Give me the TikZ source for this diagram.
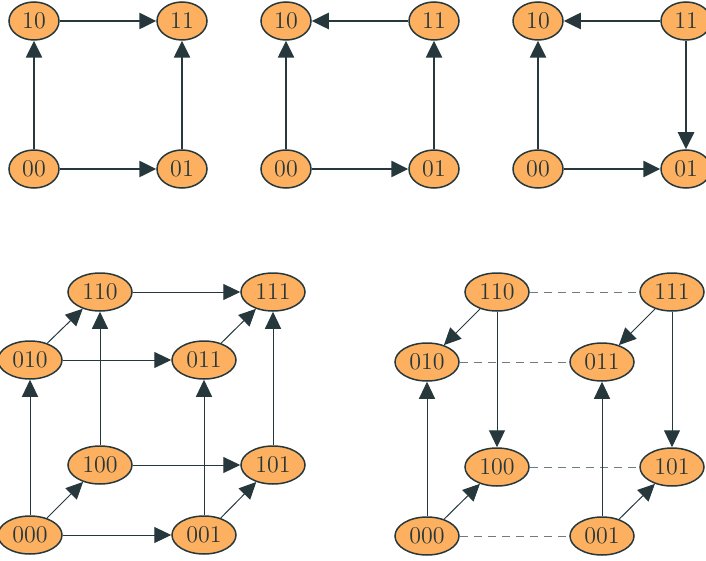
\documentclass[tikz,border=0pt]{standalone}
\usetikzlibrary{shapes.geometric,arrows.meta}
\definecolor{vxfill}{RGB}{253,176,96}
\definecolor{slate}{RGB}{38,56,60}
\definecolor{slategray}{RGB}{110,124,126}

\begin{document}
\begin{tikzpicture}[x=.5pt,y=-.5pt,
		vx/.style={ellipse,draw=slate,line width=.75pt,fill=vxfill,inner sep=0pt,minimum width=25pt,minimum height=19pt,text=slate,font=\fontsize{12}{14}\selectfont},
		vxwide/.style={vx,minimum width=32pt},
		boldarrow/.style={draw=slate,line width=1.3pt,-{Triangle[length=8.5pt,width=8pt,fill=slate]}},
		thinarrow/.style={draw=slate,line width=.5pt,-{Triangle[length=8.5pt,width=8pt,fill=slate]}},
		dashedge/.style={draw=slategray,line width=.5pt,dash pattern=on 4pt off 3pt}]
		\useasboundingbox (0,0) rectangle (706,561);
		\clip (0,0) rectangle (706,561);

		\node[vx] (a10) at (34,21) {10};
		\node[vx] (a11) at (182,21) {11};
		\node[vx] (a00) at (34,169) {00};
		\node[vx] (a01) at (182,169) {01};
		\draw[boldarrow] (a00) -- (a10);
		\draw[boldarrow] (a10) -- (a11);
		\draw[boldarrow] (a00) -- (a01);
		\draw[boldarrow] (a01) -- (a11);

		\node[vx] (b10) at (286,21) {10};
		\node[vx] (b11) at (434,21) {11};
		\node[vx] (b00) at (286,169) {00};
		\node[vx] (b01) at (434,169) {01};
		\draw[boldarrow] (b00) -- (b10);
		\draw[boldarrow] (b11) -- (b10);
		\draw[boldarrow] (b00) -- (b01);
		\draw[boldarrow] (b01) -- (b11);

		\node[vx] (c10) at (538,21) {10};
		\node[vx] (c11) at (686,21) {11};
		\node[vx] (c00) at (538,169) {00};
		\node[vx] (c01) at (686,169) {01};
		\draw[boldarrow] (c00) -- (c10);
		\draw[boldarrow] (c11) -- (c10);
		\draw[boldarrow] (c00) -- (c01);
		\draw[boldarrow] (c11) -- (c01);

		\node[vxwide] (p110) at (100,292) {110};
		\node[vxwide] (p111) at (273,292) {111};
		\node[vxwide] (p010) at (30,360) {010};
		\node[vxwide] (p011) at (204,360) {011};
		\node[vxwide] (p100) at (100,465) {100};
		\node[vxwide] (p101) at (273,465) {101};
		\node[vxwide] (p000) at (30,535) {000};
		\node[vxwide] (p001) at (204,535) {001};
		\draw[thinarrow] (p000) -- (p010);
		\draw[thinarrow] (p000) -- (p100);
		\draw[thinarrow] (p000) -- (p001);
		\draw[thinarrow] (p010) -- (p110);
		\draw[thinarrow] (p010) -- (p011);
		\draw[thinarrow] (p100) -- (p110);
		\draw[thinarrow] (p100) -- (p101);
		\draw[thinarrow] (p001) -- (p011);
		\draw[thinarrow] (p001) -- (p101);
		\draw[thinarrow] (p011) -- (p111);
		\draw[thinarrow] (p101) -- (p111);
		\draw[thinarrow] (p110) -- (p111);

		\node[vxwide] (q110) at (497,292) {110};
		\node[vxwide] (q111) at (672,292) {111};
		\node[vxwide] (q010) at (427,362) {010};
		\node[vxwide] (q011) at (602,362) {011};
		\node[vxwide] (q100) at (497,467) {100};
		\node[vxwide] (q101) at (672,467) {101};
		\node[vxwide] (q000) at (427,536) {000};
		\node[vxwide] (q001) at (602,536) {001};
		\draw[dashedge] (q110) -- (q111);
		\draw[dashedge] (q010) -- (q011);
		\draw[dashedge] (q100) -- (q101);
		\draw[dashedge] (q000) -- (q001);
		\draw[thinarrow] (q110) -- (q010);
		\draw[thinarrow] (q111) -- (q011);
		\draw[thinarrow] (q110) -- (q100);
		\draw[thinarrow] (q111) -- (q101);
		\draw[thinarrow] (q000) -- (q010);
		\draw[thinarrow] (q001) -- (q011);
		\draw[thinarrow] (q000) -- (q100);
		\draw[thinarrow] (q001) -- (q101);
	\end{tikzpicture}
\end{document}
